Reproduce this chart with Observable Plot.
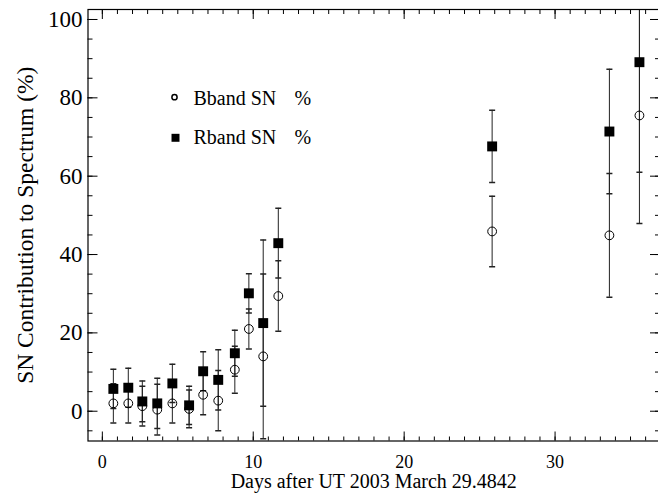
<!DOCTYPE html>
<html><head><meta charset="utf-8">
<script src="https://cdn.jsdelivr.net/npm/d3@7"></script>
<script src="https://cdn.jsdelivr.net/npm/@observablehq/plot@0.6"></script>
<style>body{margin:0;background:#fff} #chart svg{display:block}</style>
</head><body><div id="chart"></div>
<script>
// Data
const days     = [0.73, 1.72, 2.65, 3.64, 4.64, 5.75, 6.68, 7.68, 8.78, 9.71, 10.66, 11.66, 25.83, 33.6, 35.59];
const bband    = [2.0, 2.0, 1.3, 0.4, 2.0, 0.6, 4.2, 2.7, 10.6, 21.0, 14.0, 29.4, 45.9, 44.9, 75.5];
const bbandErr = [5.0, 5.0, 5.1, 6.5, 5.0, 4.8, 5.1, 7.7, 6.0, 5.1, 21.0, 9.0, 9.0, 15.8, 27.6];
const rband    = [5.7, 6.0, 2.5, 2.0, 7.1, 1.5, 10.2, 8.0, 14.8, 30.1, 22.5, 42.9, 67.6, 71.4, 89.1];
const rbandErr = [5.0, 5.0, 5.2, 6.4, 4.9, 4.9, 5.0, 7.7, 5.9, 5.0, 21.2, 8.9, 9.2, 15.9, 28.1];

const xMajor = [0, 10, 20, 30];
const xMinor = d3.range(0, 37, 1);
const yMajor = [0, 20, 40, 60, 80, 100];
const yMinor = d3.range(-5, 101, 5);
const xTitle = "Days after UT 2003 March 29.4842";
const yTitle = "SN Contribution to Spectrum (%)";
const legendLabels = ["Bband SN", "Rband SN"];
const legendUnit = "%";

const rows = days.map((d, i) => ({day: d, b: bband[i], bErr: bbandErr[i], r: rband[i], rErr: rbandErr[i]}));

const cap = {draw(ctx, size) { const w = Math.sqrt(size) / 2; ctx.moveTo(-w, 0); ctx.lineTo(w, 0); }};
const barColor = "#222";
const serif = "Liberation Serif, Times New Roman, serif";

const chart = Plot.plot({
  width: 658,
  height: 495,
  marginLeft: 87.5,
  marginRight: -1,
  marginTop: 9,
  marginBottom: 54.5,
  style: {fontFamily: serif, color: "black", background: "white"},
  x: {domain: [-0.95, 36.92], axis: null},
  y: {domain: [-7.6, 102.55], axis: null},
  marks: [
    // error bars
    Plot.ruleX(rows, {x: "day", y1: d => d.b - d.bErr, y2: d => d.b + d.bErr, stroke: barColor, clip: true}),
    Plot.ruleX(rows, {x: "day", y1: d => d.r - d.rErr, y2: d => d.r + d.rErr, stroke: barColor, clip: true}),
    Plot.dot(rows, {x: "day", y: d => d.b - d.bErr, symbol: cap, r: 3.4, stroke: barColor, fill: "none", clip: true}),
    Plot.dot(rows, {x: "day", y: d => d.b + d.bErr, symbol: cap, r: 3.4, stroke: barColor, fill: "none", clip: true}),
    Plot.dot(rows, {x: "day", y: d => d.r - d.rErr, symbol: cap, r: 3.4, stroke: barColor, fill: "none", clip: true}),
    Plot.dot(rows, {x: "day", y: d => d.r + d.rErr, symbol: cap, r: 3.4, stroke: barColor, fill: "none", clip: true}),
    // markers
    Plot.dot(rows, {x: "day", y: "b", r: 4.4, stroke: "black", fill: "none", strokeWidth: 1}),
    Plot.dot(rows, {x: "day", y: "r", symbol: "square", r: 5.6, fill: "black", stroke: "none"}),
    // frame
    Plot.frame({stroke: "black", strokeWidth: 1.2}),
    // ticks (inward)
    Plot.axisX(xMinor, {anchor: "bottom", tickSize: -4, tickFormat: () => "", label: null}),
    Plot.axisX(xMajor, {anchor: "bottom", tickSize: -9, tickFormat: () => "", label: null}),
    Plot.axisX(xMinor, {anchor: "top", tickSize: -4, tickFormat: () => "", label: null}),
    Plot.axisX(xMajor, {anchor: "top", tickSize: -9, tickFormat: () => "", label: null}),
    Plot.axisY(yMinor, {anchor: "left", tickSize: -5, tickFormat: () => "", label: null}),
    Plot.axisY(yMajor, {anchor: "left", tickSize: -10, tickFormat: () => "", label: null}),
    Plot.axisY(yMinor, {anchor: "right", tickSize: -5, tickFormat: () => "", label: null}),
    Plot.axisY(yMajor, {anchor: "right", tickSize: -10, tickFormat: () => "", label: null}),
    // tick labels
    Plot.axisX(xMajor, {anchor: "bottom", tickSize: 0, tickPadding: 14, fontSize: 18, label: null}),
    Plot.axisY(yMajor, {anchor: "left", tickSize: 0, tickPadding: 5.5, fontSize: 23, label: null}),
    // titles
    Plot.text([xTitle], {frameAnchor: "bottom", text: d => d, dy: 41, fontSize: 20, textAnchor: "middle", lineAnchor: "middle"}),
    Plot.text([yTitle], {frameAnchor: "left", text: d => d, rotate: -90, dx: -63, fontSize: 23.5, textAnchor: "middle", lineAnchor: "middle"}),
    // legend
    Plot.dot([legendLabels[0]], {frameAnchor: "top-left", dx: 86.5, dy: 87.7, r: 2.6, stroke: "black", fill: "none"}),
    Plot.dot([legendLabels[1]], {frameAnchor: "top-left", dx: 87.5, dy: 128.3, symbol: "square", r: 4.5, fill: "black", stroke: "none"}),
    Plot.text([legendLabels[0]], {frameAnchor: "top-left", text: d => d, dx: 105.5, dy: 89.4, fontSize: 20, textAnchor: "start", lineAnchor: "middle"}),
    Plot.text([legendLabels[1]], {frameAnchor: "top-left", text: d => d, dx: 105.5, dy: 127.6, fontSize: 20, textAnchor: "start", lineAnchor: "middle"}),
    Plot.text([legendUnit], {frameAnchor: "top-left", text: d => d, dx: 206.5, dy: 89.4, fontSize: 20, textAnchor: "start", lineAnchor: "middle"}),
    Plot.text([legendUnit], {frameAnchor: "top-left", text: d => d, dx: 206.5, dy: 127.6, fontSize: 20, textAnchor: "start", lineAnchor: "middle"})
  ]
});
document.getElementById("chart").appendChild(chart);
</script>
</body></html>
